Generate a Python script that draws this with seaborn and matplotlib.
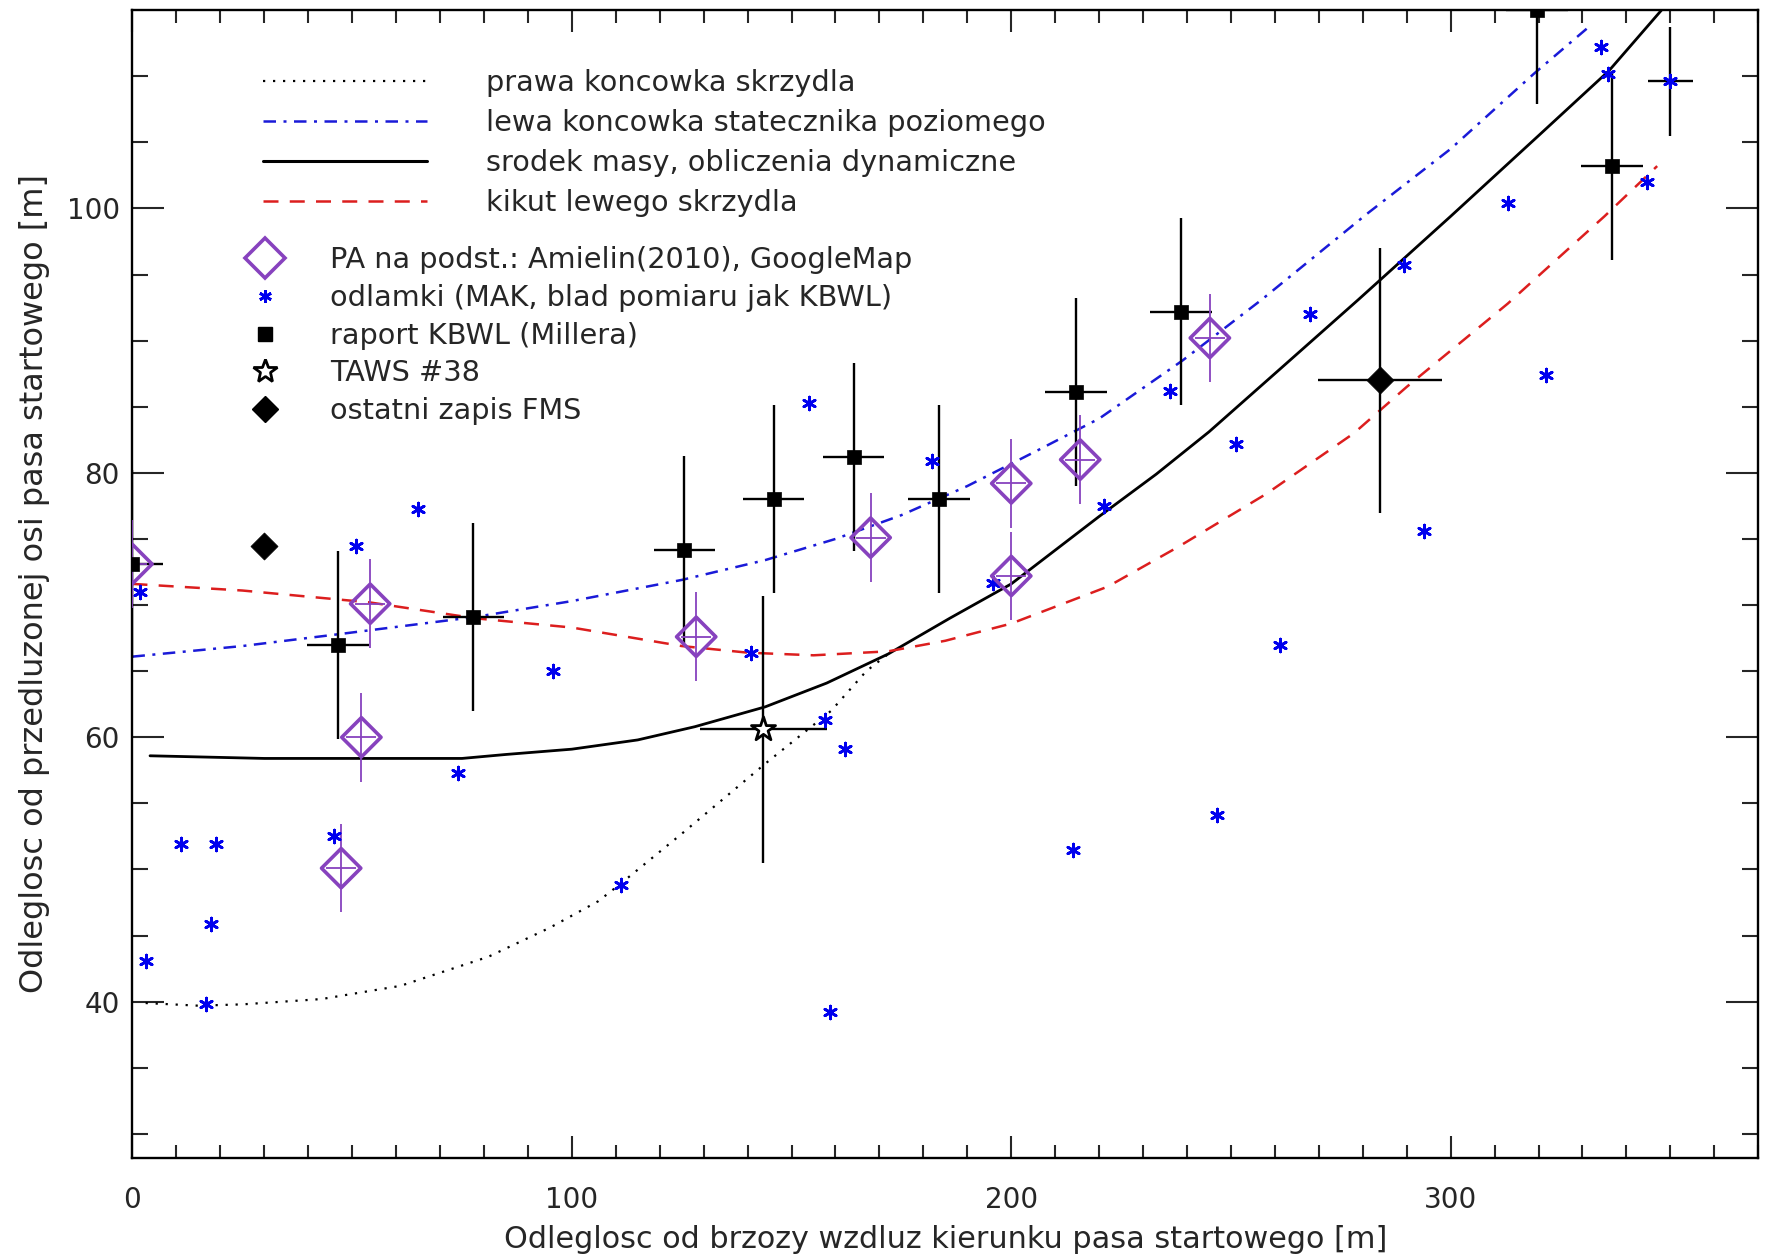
import numpy as np
import pandas as pd
import matplotlib
matplotlib.use("Agg")
import matplotlib.pyplot as plt
from matplotlib.lines import Line2D
import seaborn as sns

# ---------------- data ----------------
# curves
tip_right_x = [3, 15, 25, 43, 61, 81, 95, 106, 111, 125, 144, 159, 167, 172]
tip_right_y = [39.9, 39.7, 39.8, 40.2, 41.2, 43.4, 45.6, 47.6, 48.9, 52.7, 58.0, 62.0, 65.0, 66.3]

stab_left_x = [0, 25, 47, 78, 100, 125, 144, 160, 175, 190, 206, 220, 239, 257, 281, 300, 319, 331]
stab_left_y = [66.1, 66.9, 67.8, 69.1, 70.3, 71.9, 73.4, 75.0, 76.8, 79.0, 81.7, 84.1, 88.5, 93.1, 99.6, 104.5, 110.2, 113.6]

cm_x = [4, 30, 75, 85, 100, 115, 128, 144, 158, 172, 186, 200, 220, 233, 245, 261, 279, 300, 320, 336, 348]
cm_y = [58.6, 58.4, 58.4, 58.7, 59.1, 59.8, 60.8, 62.3, 64.1, 66.3, 69.0, 71.6, 76.7, 79.9, 83.1, 87.8, 93.1, 99.4, 105.5, 110.4, 115.0]

stump_x = [0, 25, 54, 78, 100, 125, 140, 155, 172, 185, 200, 222, 238, 258, 278, 290, 313, 335, 347]
stump_y = [71.6, 71.1, 70.2, 69.0, 68.3, 66.9, 66.4, 66.2, 66.5, 67.3, 68.6, 71.4, 74.4, 78.4, 83.0, 86.5, 92.8, 99.4, 103.2]

# PA (Amielin 2010, GoogleMap)
pa_x = [0, 54.1, 52.1, 47.5, 128.3, 168.0, 200.0, 200.0, 215.7, 245.2]
pa_y = [73.1, 70.1, 60.0, 50.1, 67.6, 75.1, 79.2, 72.2, 81.0, 90.2]
pa_xerr = 3.4
pa_yerr = 3.35

# fragments (MAK)
frag_x = [1.8, 3.1, 11, 19, 17.8, 16.8, 45.9, 50.8, 65.1, 74, 95.8, 111.1, 140.7, 154, 157.7,
          162.1, 158.8, 182, 195.8, 214, 221, 236.1, 246.9, 251.1, 261.2, 267.9, 289.3, 293.9,
          313.1, 321.8, 334.3, 335.7, 344.7, 350.0]
frag_y = [71.0, 43.1, 51.9, 51.9, 45.9, 39.8, 52.5, 74.5, 77.3, 57.3, 65.0, 48.8, 66.4, 85.3, 61.3,
          59.1, 39.2, 80.9, 71.7, 51.5, 77.5, 86.2, 54.1, 82.2, 67.0, 92.0, 95.7, 75.6,
          100.4, 87.4, 112.2, 110.2, 102.0, 109.6]
frag_err_x = [350.0]
frag_err_y = [109.6]
frag_err_dx = 5.2
frag_err_dy = 4.1

# KBWL report (Miller)
kbwl_x = [0, 46.8, 77.6, 125.6, 145.9, 164.1, 183.6, 214.7, 238.6, 319.7, 336.7]
kbwl_y = [73.1, 67.0, 69.1, 74.2, 78.0, 81.2, 78.0, 86.1, 92.2, 115.0, 103.2]
kbwl_xerr = 7.0
kbwl_yerr = 7.1

# TAWS #38
taws_x = [143.6]
taws_y = [60.6]
taws_xerr = 14.4
taws_yerr = 10.1

# last FMS record
fms_x = [283.9]
fms_y = [87.0]
fms_xerr = 14.2
fms_yerr = 10.0
fms2_x = [29.9]
fms2_y = [74.5]

labels_lines = ["prawa koncowka skrzydla",
                "lewa koncowka statecznika poziomego",
                "srodek masy, obliczenia dynamiczne",
                "kikut lewego skrzydla"]
labels_pts = ["PA na podst.: Amielin(2010), GoogleMap",
              "odlamki (MAK, blad pomiaru jak KBWL)",
              "raport KBWL (Millera)",
              "TAWS #38",
              "ostatni zapis FMS"]
xlabel = "Odleglosc od brzozy wzdluz kierunku pasa startowego [m]"
ylabel = "Odleglosc od przedluzonej osi pasa startowego [m]"

# ---------------- style ----------------
sns.set_style("ticks")
plt.rcParams['font.family'] = ['DejaVu Sans']
PURPLE = '#8742be'
BLUE = '#0000ee'
BLUE_L = '#1a1ad8'
RED = '#dc1e1e'

fig = plt.figure(figsize=(17.66, 12.58), dpi=100)
ax = fig.add_axes([0.0750, 0.0797, 0.9206, 0.9123])

ls_dot = (0, (1.0, 3.5))
ls_dashdot = (0, (5, 3, 1.2, 3))
ls_dash = (0, (6, 4.5))

sns.lineplot(x=tip_right_x, y=tip_right_y, ax=ax, color='black', linestyle=ls_dot, lw=1.6,
             sort=False, estimator=None)
sns.lineplot(x=stab_left_x, y=stab_left_y, ax=ax, color=BLUE_L, linestyle=ls_dashdot, lw=1.8,
             sort=False, estimator=None)
sns.lineplot(x=cm_x, y=cm_y, ax=ax, color='black', linestyle='-', lw=2.0,
             sort=False, estimator=None)
sns.lineplot(x=stump_x, y=stump_y, ax=ax, color=RED, linestyle=ls_dash, lw=1.8,
             sort=False, estimator=None)

# error bars
ax.errorbar(kbwl_x, kbwl_y, xerr=kbwl_xerr, yerr=kbwl_yerr, fmt='none', ecolor='black',
            elinewidth=1.7, capsize=0, zorder=3)
ax.errorbar(taws_x, taws_y, xerr=taws_xerr, yerr=taws_yerr, fmt='none', ecolor='black',
            elinewidth=1.7, capsize=0, zorder=3)
ax.errorbar(fms_x, fms_y, xerr=fms_xerr, yerr=fms_yerr, fmt='none', ecolor='black',
            elinewidth=1.7, capsize=0, zorder=3)
ax.errorbar(frag_err_x, frag_err_y, xerr=frag_err_dx, yerr=frag_err_dy, fmt='none',
            ecolor='black', elinewidth=1.7, capsize=0, zorder=3)
ax.errorbar(pa_x, pa_y, xerr=pa_xerr, yerr=pa_yerr, fmt='none', ecolor=PURPLE,
            elinewidth=1.3, capsize=0, zorder=4)

# markers
sns.scatterplot(x=frag_x, y=frag_y, ax=ax, marker=(6, 2, 0), s=85, color=BLUE,
                linewidth=2.0, zorder=5)
sns.scatterplot(x=kbwl_x, y=kbwl_y, ax=ax, marker='s', s=100, color='black',
                edgecolor='black', linewidth=0.5, zorder=5)
sns.scatterplot(x=pa_x, y=pa_y, ax=ax, marker='D', s=400, facecolor='none',
                edgecolor=PURPLE, linewidth=2.6, zorder=6)
sns.scatterplot(x=taws_x, y=taws_y, ax=ax, marker='*', s=330, facecolor='white',
                edgecolor='black', linewidth=2.0, zorder=6)
sns.scatterplot(x=fms_x + fms2_x, y=fms_y + fms2_y, ax=ax, marker='D', s=190,
                color='black', edgecolor='black', linewidth=0.5, zorder=6)

# axes
ax.set_xlim(0, 370)
ax.set_ylim(28.2, 115)
ax.set_xticks([0, 100, 200, 300])
ax.set_xticks(np.arange(0, 371, 10), minor=True)
ax.set_yticks([40, 60, 80, 100])
ax.set_yticks(np.arange(30, 115, 5), minor=True)
ax.tick_params(axis='x', which='major', direction='in', length=16, width=1.5, top=True,
               bottom=True, pad=20, labelsize=20)
ax.tick_params(axis='x', which='minor', direction='in', length=9.3, width=1.5, top=True,
               bottom=True)
ax.tick_params(axis='y', which='major', direction='in', length=23, width=1.5, left=True,
               right=True, pad=9, labelsize=20)
ax.tick_params(axis='y', which='minor', direction='in', length=11.5, width=1.5, left=True,
               right=True)
for s in ax.spines.values():
    s.set_visible(True)
    s.set_linewidth(1.7)
    s.set_color('black')
ax.set_xlabel(xlabel, fontsize=21.8, labelpad=8)
ax.set_ylabel(ylabel, fontsize=23, labelpad=12)

# legends
line_handles = [
    Line2D([], [], color='black', linestyle=ls_dot, lw=1.6),
    Line2D([], [], color=BLUE_L, linestyle=ls_dashdot, lw=1.8),
    Line2D([], [], color='black', linestyle='-', lw=2.2),
    Line2D([], [], color=RED, linestyle=ls_dash, lw=1.8),
]
leg1 = ax.legend(line_handles, labels_lines, loc='upper left', bbox_to_anchor=(0.0803, 0.949),
                 frameon=False, fontsize=20.7, handlelength=5.7, handletextpad=2.05,
                 labelspacing=0.42, borderpad=0, borderaxespad=0)
ax.add_artist(leg1)

pt_handles = [
    Line2D([], [], linestyle='none', marker='D', markersize=20, mfc='none', mec=PURPLE, mew=2.6),
    Line2D([], [], linestyle='none', marker=(6, 2, 0), markersize=9.2, color=BLUE, mew=2.0),
    Line2D([], [], linestyle='none', marker='s', markersize=10, color='black'),
    Line2D([], [], linestyle='none', marker='*', markersize=18, mfc='white', mec='black', mew=2.0),
    Line2D([], [], linestyle='none', marker='D', markersize=13.7, color='black'),
]
leg2 = ax.legend(pt_handles, labels_pts, loc='upper left', bbox_to_anchor=(0.0674, 0.794),
                 frameon=False, fontsize=20.7, handlelength=1.6, handletextpad=1.45,
                 labelspacing=0.335, borderpad=0, borderaxespad=0)

fig.savefig("out.png", dpi=100)
